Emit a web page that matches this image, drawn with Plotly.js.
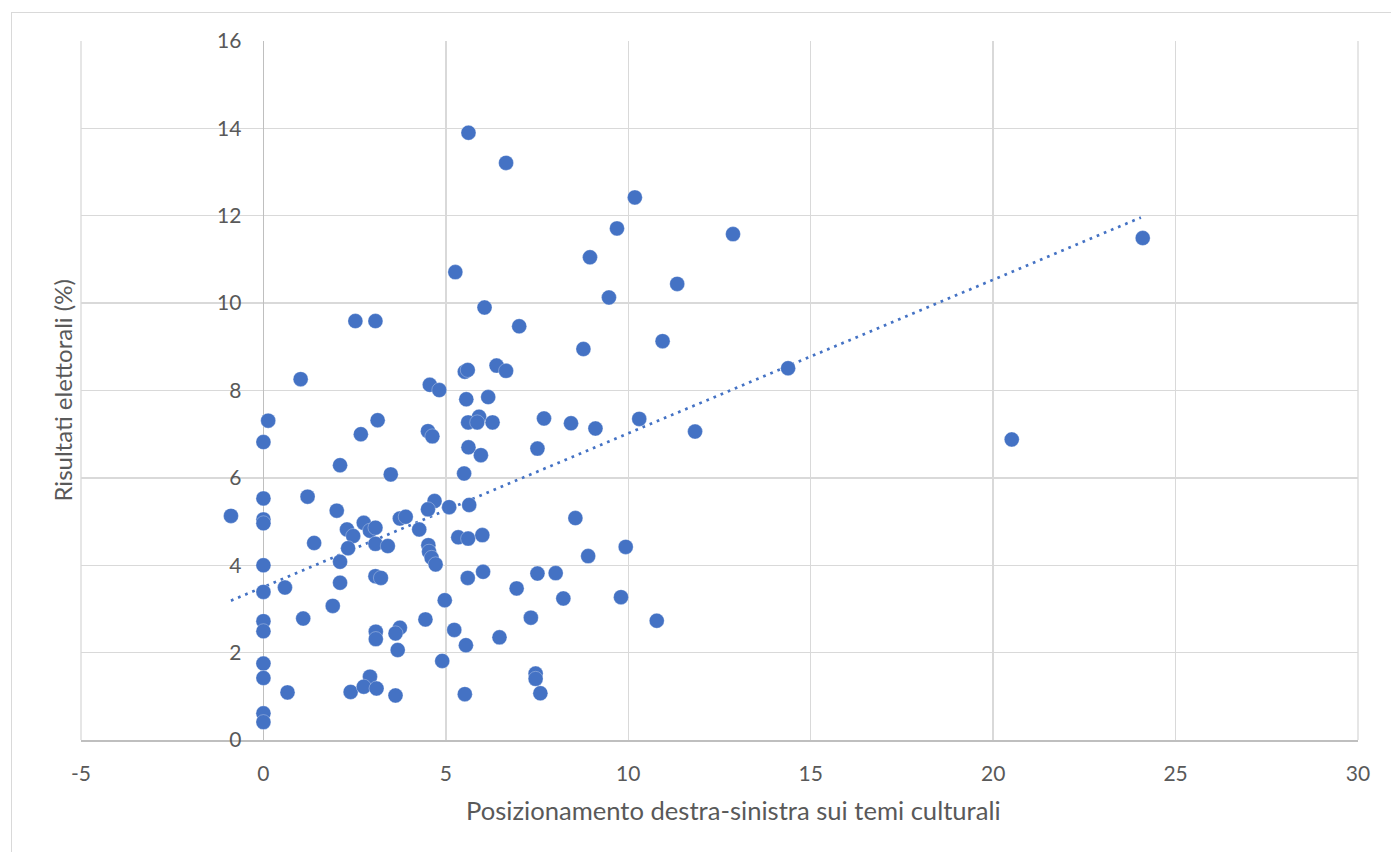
<!DOCTYPE html>
<html>
<head>
<meta charset="utf-8">
<script src="https://cdn.plot.ly/plotly-3.0.1.min.js"></script>
<style>
  html, body { margin: 0; padding: 0; background: #fff; }
  #wrap { position: relative; width: 1391px; height: 852px; overflow: hidden; }
  #chart { width: 1391px; height: 852px; }
  #frame { position: absolute; left: 11px; top: 12px; width: 1500px; height: 1000px;
           border: 1px solid #d9d9d9; pointer-events: none; box-sizing: border-box; }
</style>
</head>
<body>
<div id="wrap">
  <div id="chart"></div>
  <div id="frame"></div>
</div>
<script>
// Posizionamento destra-sinistra sui temi culturali (x) vs Risultati elettorali % (y)
const posizionamento = [
  5.62, 6.65, 10.18, 9.69, 12.87, 24.10, 8.95, 5.26, 11.34, 9.47,
  6.06, 2.52, 3.07, 7.01, 10.94, 8.77, 6.39, 14.38, 5.52, 5.60,
  6.65, 1.02, 4.56, 4.82, 6.16, 5.56, 5.91, 0.13, 3.13, 5.61,
  5.86, 6.28, 7.69, 10.30, 8.43, 9.10, 2.67, 4.51, 4.63, 11.83,
  0.00, 5.62, 7.51, 5.96, 20.51, 2.10, 5.50, 3.49, 0.00, 1.21,
  4.69, -0.89, 5.09, 4.51, 5.64, 2.01, 8.55, 3.74, 3.90, 0.00,
  0.00, 2.75, 2.92, 3.07, 2.29, 4.27, 2.46, 5.34, 5.61, 6.00,
  1.39, 3.07, 3.41, 2.32, 4.52, 4.54, 4.61, 4.72, 9.93, 8.90,
  0.00, 2.10, 6.02, 5.60, 3.07, 3.22, 7.51, 8.01, 2.10, 0.59,
  6.94, 0.00, 8.22, 9.80, 4.97, 1.90, 1.09, 7.33, 4.44, 10.78,
  0.00, 0.00, 3.08, 3.08, 5.23, 3.74, 3.62, 6.47, 5.55, 3.68,
  0.00, 4.90, 0.00, 2.92, 7.46, 7.46, 0.66, 2.39, 2.75, 3.10,
  3.62, 5.52, 7.59, 0.00, 0.00
];
const risultati = [
  13.90, 13.21, 12.42, 11.71, 11.58, 11.49, 11.05, 10.71, 10.44, 10.13,
  9.90, 9.59, 9.59, 9.47, 9.13, 8.95, 8.57, 8.51, 8.43, 8.47,
  8.45, 8.26, 8.13, 8.01, 7.85, 7.80, 7.40, 7.31, 7.32, 7.27,
  7.27, 7.27, 7.36, 7.35, 7.25, 7.13, 7.00, 7.07, 6.95, 7.06,
  6.82, 6.70, 6.67, 6.52, 6.88, 6.29, 6.10, 6.08, 5.53, 5.57,
  5.47, 5.13, 5.33, 5.28, 5.38, 5.25, 5.08, 5.07, 5.11, 5.05,
  4.96, 4.97, 4.79, 4.86, 4.82, 4.82, 4.67, 4.64, 4.61, 4.69,
  4.51, 4.49, 4.44, 4.39, 4.46, 4.31, 4.17, 4.02, 4.42, 4.21,
  4.00, 4.08, 3.85, 3.71, 3.75, 3.71, 3.81, 3.82, 3.60, 3.49,
  3.47, 3.39, 3.24, 3.27, 3.20, 3.07, 2.78, 2.80, 2.76, 2.73,
  2.72, 2.49, 2.48, 2.31, 2.52, 2.57, 2.44, 2.35, 2.17, 2.06,
  1.75, 1.81, 1.42, 1.45, 1.52, 1.40, 1.09, 1.10, 1.22, 1.18,
  1.02, 1.05, 1.07, 0.61, 0.41
];
// Linear trendline (start and end of the dotted line)
const trendX = [-0.89, 24.05];
const trendY = [3.19, 11.96];

const xTicks = [-5, 0, 5, 10, 15, 20, 25, 30];
const yTicks = [0, 2, 4, 6, 8, 10, 12, 14, 16];
const xTitle = "Posizionamento destra-sinistra sui temi culturali";
const yTitle = "Risultati elettorali (%)";

const blue = "#4472C4";
const FONT = "Lato, 'Open Sans', sans-serif";
const grey = "#595959";

const traces = [
  {
    x: trendX, y: trendY, type: "scatter", mode: "lines",
    line: { color: blue, width: 2.7, dash: "2.7px,5px" },
    hoverinfo: "skip", showlegend: false
  },
  {
    x: posizionamento, y: risultati, type: "scatter", mode: "markers",
    marker: { color: blue, size: 15, line: { color: "rgba(255,255,255,0.5)", width: 0.6 } },
    showlegend: false
  }
];

const layout = {
  width: 1391, height: 852,
  margin: { l: 81, r: 33, t: 41, b: 112 },
  paper_bgcolor: "#ffffff", plot_bgcolor: "#ffffff",
  font: { family: FONT, color: grey, size: 21 },
  showlegend: false,
  xaxis: {
    range: [-5, 30], tickvals: xTicks, ticktext: xTicks.map(String),
    showgrid: true, gridcolor: "#d9d9d9", gridwidth: 1.3,
    zeroline: true, zerolinecolor: "#bfbfbf", zerolinewidth: 1.6,
    showline: true, linecolor: "#bfbfbf", linewidth: 1.6,
    ticks: "", ticklabelstandoff: 14,
    tickfont: { family: FONT, size: 21, color: grey },
    fixedrange: true
  },
  yaxis: {
    range: [0, 16], tickvals: yTicks, ticktext: yTicks.map(String),
    anchor: "free", position: 5 / 35,
    showgrid: true, gridcolor: "#d9d9d9", gridwidth: 1.3,
    zeroline: true, zerolinecolor: "#bfbfbf", zerolinewidth: 1.6,
    showline: false,
    ticks: "", ticklabelstandoff: 22,
    tickfont: { family: FONT, size: 21, color: grey },
    fixedrange: true
  },
  shapes: [
    { type: "line", xref: "paper", yref: "paper", x0: 0, x1: 0, y0: 0, y1: 1,
      line: { color: "#d9d9d9", width: 1.3 }, layer: "below" },
    { type: "line", xref: "paper", yref: "paper", x0: 1, x1: 1, y0: 0, y1: 1,
      line: { color: "#d9d9d9", width: 1.3 }, layer: "below" }
  ],
  annotations: [
    { text: xTitle, xref: "paper", yref: "paper", x: (733.5 - 81) / 1277, y: 0,
      yshift: -70, xanchor: "center", yanchor: "middle", showarrow: false,
      font: { family: FONT, size: 25.6, color: grey } },
    { text: yTitle, xref: "paper", yref: "paper", x: 0, y: 0.5,
      xshift: -19, xanchor: "center", yanchor: "middle", textangle: -90, showarrow: false,
      font: { family: FONT, size: 24, color: grey } }
  ]
};

Plotly.newPlot("chart", traces, layout, { displayModeBar: false, staticPlot: true });
</script>
</body>
</html>
